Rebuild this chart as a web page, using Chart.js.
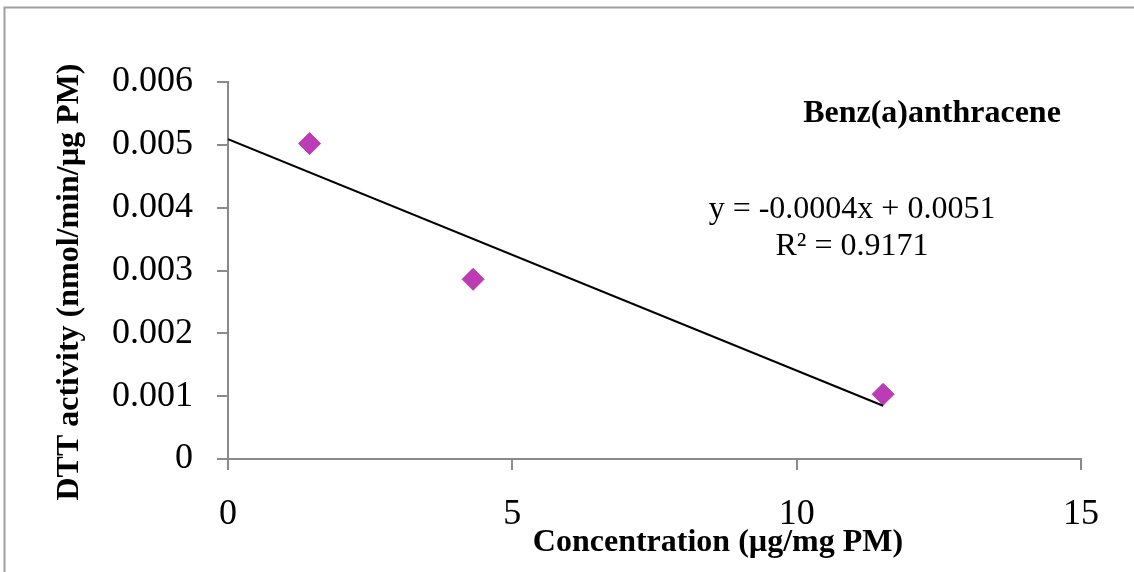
<!DOCTYPE html>
<html>
<head>
<meta charset="utf-8">
<title>Benz(a)anthracene DTT activity</title>
<script src="https://cdn.jsdelivr.net/npm/chart.js@4/dist/chart.umd.min.js"></script>
<style>
  html, body { margin: 0; padding: 0; background: #fff; }
  #chart { display: block; }
</style>
</head>
<body>
<canvas id="chart" width="1134" height="572"></canvas>
<script>
// Measured samples
const concentration = [1.435, 4.31, 11.52];        // µg/mg PM
const dttActivity = [0.00502, 0.00286, 0.00103];   // nmol/min/µg PM

const xTicks = [0, 5, 10, 15];
const yTicks = [0, 0.001, 0.002, 0.003, 0.004, 0.005, 0.006];

const chartTitle = 'Benz(a)anthracene';
const equationText = 'y = -0.0004x + 0.0051';
const r2Text = 'R² = 0.9171';
const xTitle = 'Concentration (µg/mg PM)';
const yTitle = 'DTT activity (nmol/min/µg PM)';

const serif = "'Liberation Serif', 'Times New Roman', serif";
const axisGrey = '#8a8a8a';

// least squares fit for the linear trendline
function linearFit(xs, ys) {
  const n = xs.length;
  const mx = xs.reduce((a, b) => a + b, 0) / n;
  const my = ys.reduce((a, b) => a + b, 0) / n;
  let sxy = 0, sxx = 0;
  for (let i = 0; i < n; i++) {
    sxy += (xs[i] - mx) * (ys[i] - my);
    sxx += (xs[i] - mx) * (xs[i] - mx);
  }
  const slope = sxy / sxx;
  return { slope, intercept: my - slope * mx };
}

const fit = linearFit(concentration, dttActivity);
const xEnd = Math.max(...concentration);
const trendPoints = [0, xEnd].map(x => ({ x: x, y: fit.intercept + fit.slope * x }));

const points = concentration.map((x, i) => ({ x: x, y: dttActivity[i] }));

// frame and free-floating text
const decorations = {
  id: 'decorations',
  beforeDraw(chart) {
    const ctx = chart.ctx;
    ctx.save();
    ctx.strokeStyle = '#a0a0a0';
    ctx.lineWidth = 2;
    ctx.beginPath();
    ctx.moveTo(4.5, 600);
    ctx.lineTo(4.5, 7.5);
    ctx.lineTo(1200, 7.5);
    ctx.stroke();
    ctx.restore();
  },
  afterDraw(chart) {
    const ctx = chart.ctx;
    ctx.save();
    ctx.fillStyle = '#000';
    ctx.textAlign = 'center';
    ctx.textBaseline = 'alphabetic';

    ctx.font = 'bold 32px ' + serif;
    ctx.fillText(chartTitle, 932, 122);
    ctx.fillText(xTitle, 718, 551);

    ctx.font = '32px ' + serif;
    ctx.fillText(equationText, 852, 218);
    ctx.fillText(r2Text, 852, 255);

    ctx.translate(78, 282);
    ctx.rotate(-Math.PI / 2);
    ctx.font = 'bold 32px ' + serif;
    ctx.fillText(yTitle, 0, 0);
    ctx.restore();
  }
};

new Chart(document.getElementById('chart'), {
  type: 'scatter',
  data: {
    datasets: [
      {
        type: 'line',
        label: 'Linear trend',
        data: trendPoints,
        borderColor: '#000',
        borderWidth: 2,
        pointRadius: 0,
        fill: false
      },
      {
        label: 'Benz(a)anthracene',
        data: points,
        pointStyle: 'rectRot',
        pointRadius: 11,
        backgroundColor: '#bb3cb4',
        borderColor: '#bb3cb4',
        borderWidth: 1
      }
    ]
  },
  options: {
    responsive: false,
    animation: false,
    layout: { padding: { top: 82, right: 53, left: 0, bottom: 0 } },
    plugins: {
      legend: { display: false },
      tooltip: { enabled: false }
    },
    scales: {
      x: {
        type: 'linear',
        min: 0,
        max: 15,
        afterBuildTicks: scale => { scale.ticks = xTicks.map(v => ({ value: v })); },
        afterFit: scale => { scale.height = 113; },
        grid: { drawOnChartArea: false, drawTicks: true, tickLength: 11, color: axisGrey, lineWidth: 2 },
        border: { display: true, color: axisGrey, width: 2 },
        ticks: {
          color: '#000',
          padding: 23,
          maxRotation: 0,
          font: { family: serif, size: 36 }
        }
      },
      y: {
        type: 'linear',
        min: 0,
        max: 0.006,
        afterBuildTicks: scale => { scale.ticks = yTicks.map(v => ({ value: v })); },
        afterFit: scale => { scale.width = 228; },
        grid: { drawOnChartArea: false, drawTicks: true, tickLength: 11, color: axisGrey, lineWidth: 2 },
        border: { display: true, color: axisGrey, width: 2 },
        ticks: {
          color: '#000',
          padding: 24,
          font: { family: serif, size: 36 },
          callback: v => (v === 0 ? '0' : v.toFixed(3))
        }
      }
    }
  },
  plugins: [decorations]
});
</script>
</body>
</html>
